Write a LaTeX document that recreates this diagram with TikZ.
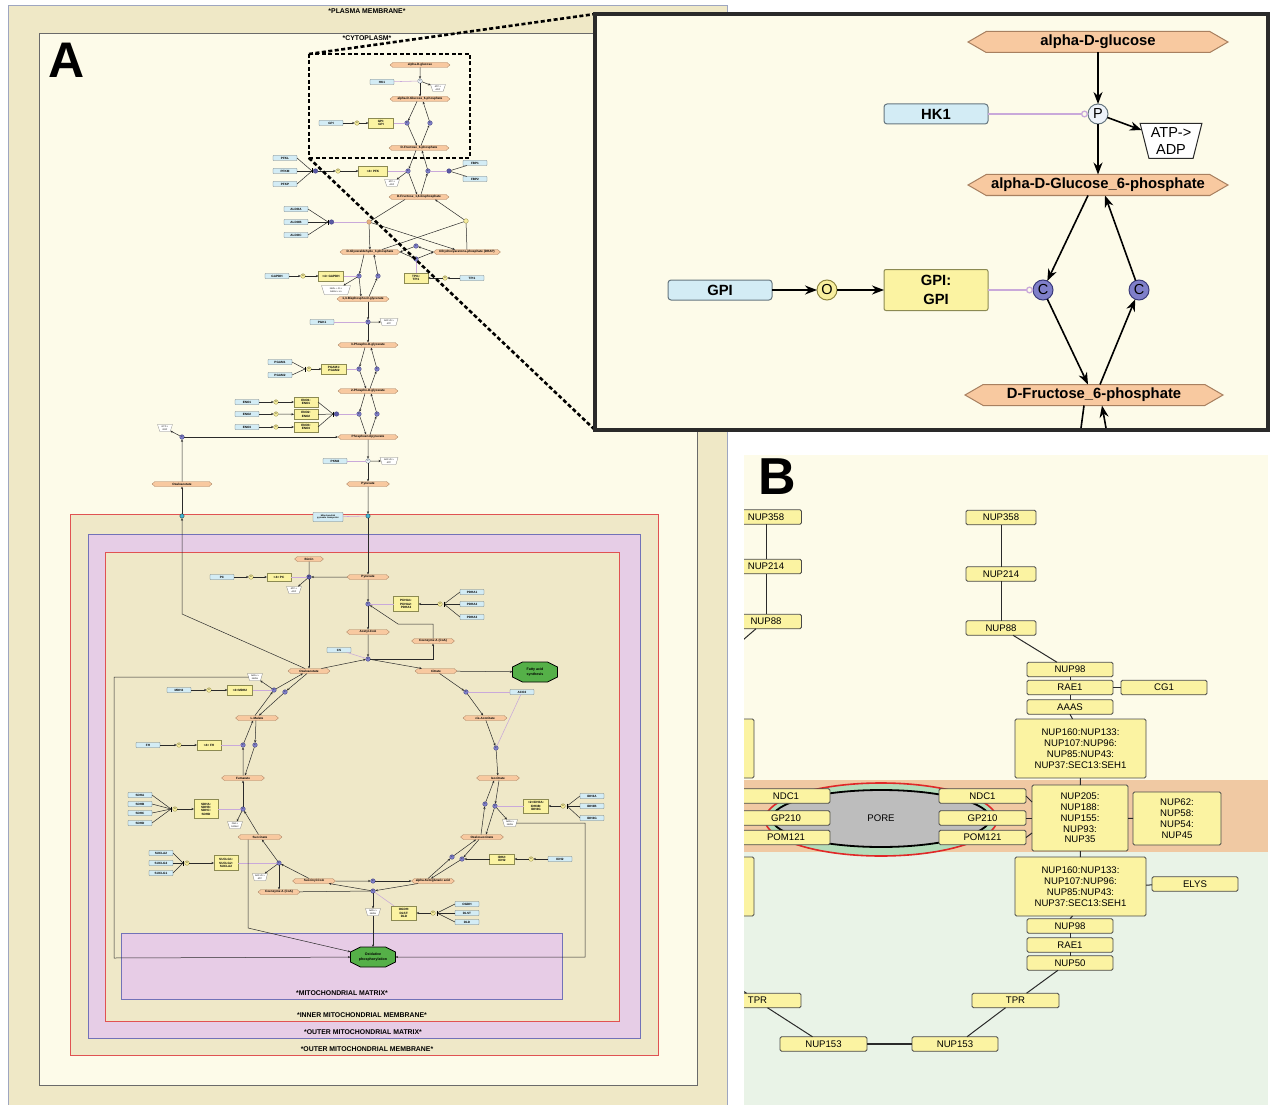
\documentclass[tikz,border=0pt]{standalone}
\usepackage{fontspec}
\setmainfont{Liberation Sans}
\usetikzlibrary{shapes.symbols,shapes.geometric,arrows.meta,calc}

\definecolor{plasma}{HTML}{EFE8C6}
\definecolor{cyto}{HTML}{FDFBE9}
\definecolor{mitopurp}{HTML}{E6CDE6}
\definecolor{matrixcol}{HTML}{E7CCE6}
\definecolor{mitobeige}{HTML}{EFE8C8}
\definecolor{mitored}{HTML}{E05252}
\definecolor{mitoblue}{HTML}{7272B8}
\definecolor{pmborder}{HTML}{9EA6C0}
\definecolor{genecol}{HTML}{D3ECF5}
\definecolor{genebd}{HTML}{66767F}
\definecolor{cxcol}{HTML}{FBF3A2}
\definecolor{cxbd}{HTML}{8C8A52}
\definecolor{metcol}{HTML}{F8C9A0}
\definecolor{metbd}{HTML}{A88060}
\definecolor{pccol}{HTML}{7F7FC9}
\definecolor{pcdark}{HTML}{5A5AA6}
\definecolor{pcbd}{HTML}{3A3A7A}
\definecolor{occol}{HTML}{F7EE9E}
\definecolor{ocbd}{HTML}{8E8640}
\definecolor{catcol}{HTML}{C9A9DA}
\definecolor{cyancol}{HTML}{3FB8D8}
\definecolor{fascol}{HTML}{55B048}
\definecolor{orcirc}{HTML}{E8B080}
\definecolor{bandor}{HTML}{F0C9A3}
\definecolor{bandgr}{HTML}{E9F3E7}
\definecolor{pwhite}{HTML}{EEF3FA}
\definecolor{ink}{HTML}{2A2A2A}
\definecolor{porered}{HTML}{E02828}
\definecolor{poregreen}{HTML}{B4DCBA}
\definecolor{poregray}{HTML}{BDBDBD}

\newcommand\fA{\fontsize{3.1}{3.3}\selectfont\bfseries}
\newcommand\fB{\fontsize{2.2}{2.5}\selectfont}
\newcommand\fC{\fontsize{3.6}{4.4}\selectfont\bfseries}
\newcommand\fR{\fontsize{6.9}{7.5}\selectfont\bfseries}
\newcommand\fI{\fontsize{14.8}{19}\selectfont\bfseries}
\newcommand\fIr{\fontsize{14.5}{16.5}\selectfont}
\newcommand\fN{\fontsize{9.6}{10.8}\selectfont}
% octagonal outline of width 45 and height 20 around a point
\newcommand\octoutline[1]{%
  \draw[octA] ($(#1)+(-22.5,-5)$) -- ($(#1)+(-12.5,-10)$) -- ($(#1)+(12.5,-10)$) -- ($(#1)+(22.5,-5)$)
    -- ($(#1)+(22.5,5)$) -- ($(#1)+(12.5,10)$) -- ($(#1)+(-12.5,10)$) -- ($(#1)+(-22.5,5)$) -- cycle;}

\tikzset{
  every node/.style={inner sep=0pt, outer sep=0pt},
  gA/.style={draw=genebd, fill=genecol, rounded corners=0.6pt, line width=0.3pt, minimum width=24pt, minimum height=5pt, font=\fA},
  cA/.style={draw=cxbd, fill=cxcol, line width=0.3pt, minimum width=25pt, minimum height=10pt, font=\fA, align=center},
  mA/.style={signal, signal to=east and west, signal pointer angle=80, draw=metbd, fill=metcol, line width=0.3pt, minimum height=5pt, font=\fA},
  pcA/.style={circle, draw=pcbd, fill=pccol, line width=0.3pt, minimum size=4.6pt, font=\fB},
  kA/.style={circle, draw=pcbd, fill=pcdark, line width=0.3pt, minimum size=4.6pt, font=\fB},
  ocA/.style={circle, draw=ocbd, fill=occol, line width=0.3pt, minimum size=4.6pt, font=\fB},
  wcA/.style={circle, draw=genebd, fill=pwhite, line width=0.3pt, minimum size=4.6pt, font=\fB},
  tcA/.style={circle, draw=ink, fill=cyancol, line width=0.3pt, minimum size=4.4pt},
  trA/.style={trapezium, shape border rotate=180, trapezium angle=70, trapezium stretches=true, draw=gray, fill=white, line width=0.3pt, minimum width=15pt, minimum height=7pt, font=\fB, align=center},
  octA/.style={draw=black, fill=fascol, line width=0.7pt},
  octT/.style={minimum width=45pt, minimum height=20pt, font=\fC, align=center},
  arA/.style={draw=ink, line width=0.5pt, -{Stealth[length=2.6pt,width=2.2pt]}},
  lnA/.style={draw=ink, line width=0.5pt},
  barA/.style={draw=black, line width=1pt},
  catA/.style={draw=catcol, line width=0.55pt},
  regionlabel/.style={font=\fR},
  gI/.style={draw=genebd, fill=genecol, rounded corners=3pt, line width=1pt, minimum width=104pt, minimum height=20pt, font=\fI},
  cI/.style={draw=cxbd, fill=cxcol, rounded corners=2pt, line width=1pt, minimum width=104pt, minimum height=41pt, font=\fI, align=center},
  mI/.style={signal, signal to=east and west, signal pointer angle=60, draw=metbd, fill=metcol, line width=1pt, minimum height=21pt, font=\fI},
  ciI/.style={circle, line width=1pt, minimum size=20pt, font=\fIr},
  arI/.style={draw=black, line width=1.6pt, -{Stealth[length=12pt,width=9pt]}},
  lnI/.style={draw=black, line width=1.6pt},
  catI/.style={draw=catcol, line width=1.3pt, -{Circle[open,length=7pt,width=7pt]}},
  zoomline/.style={draw=black, line width=2.6pt, dash pattern=on 4pt off 2.5pt},
  nb/.style={draw=ink!85, fill=cxcol, rounded corners=1.5pt, line width=0.8pt, minimum height=14.5pt, font=\fN, align=center},
  lnB/.style={draw=ink, line width=1pt},
}

\begin{document}
\begin{tikzpicture}[x=1pt,y=-1pt]
\useasboundingbox (0,0) rectangle (1275,1105);
\fill[white] (0,0) rectangle (1275,1105);

% ---------------- panel A: compartments ----------------
\draw[draw=pmborder, line width=0.6pt, fill=plasma] (8,5) -- (727,5) -- (727,1106) -- (8,1106) -- cycle;
\draw[draw=ink!70, line width=0.6pt, fill=cyto] (39,33) rectangle (697,1085);
\node[regionlabel] (lblPM) at (367,11) {*PLASMA MEMBRANE*};
\node[regionlabel] (lblCY) at (367,38) {*CYTOPLASM*};
\node[font=\fontsize{50}{50}\selectfont\bfseries] (lblA) at (67,60) {A};

\draw[draw=mitored, line width=0.6pt, fill=mitobeige] (70,514) rectangle (658,1055);
\draw[draw=mitoblue, line width=0.6pt, fill=mitopurp] (88,534) rectangle (640,1038);
\draw[draw=mitored, line width=0.6pt, fill=mitobeige] (105,552) rectangle (619,1021);
\draw[draw=mitoblue, line width=0.6pt, fill=matrixcol] (121,933) rectangle (562,999);
\node[regionlabel] (lblMM) at (342,993) {*MITOCHONDRIAL MATRIX*};
\node[regionlabel] (lblIM) at (362,1015) {*INNER MITOCHONDRIAL MEMBRANE*};
\node[regionlabel] (lblOX) at (363,1032) {*OUTER MITOCHONDRIAL MATRIX*};
\node[regionlabel] (lblOM) at (367,1049) {*OUTER MITOCHONDRIAL MEMBRANE*};

% ---------------- glycolysis ----------------
\node[mA, minimum width=60] (glc) at (420,65) {alpha-D-glucose};
\node[gA] (hk1) at (382,82) {HK1};
\node[wcA] (pHK) at (420,81) {P};
\node[trA] (atpHK) at (438,88) {ATP->\\ADP};
\node[mA, minimum width=60] (g6p) at (420,99) {alpha-D-Glucose\_6-phosphate};
\node[gA] (gpi) at (331,123) {GPI};
\node[ocA] (oGPI) at (357,123) {O};
\node[cA] (gpigpi) at (381,123) {GPI:\\GPI};
\node[pcA] (cG1) at (407,123) {C};
\node[pcA] (cG2) at (430,123) {C};
\node[mA, minimum width=60] (f6p) at (419,148) {D-Fructose\_6-phosphate};
\node[gA] (pfkl) at (285,158) {PFKL};
\node[gA] (pfkm) at (285,171) {PFKM};
\node[gA] (pfkp) at (285,184) {PFKP};
\coordinate (bPFK) at (312,171);
\node[kA] (kPFK) at (315.5,171) {};
\node[ocA] (oPFK) at (338,171) {O};
\node[cA, minimum width=29] (pfk) at (373,171) {<4> PFK};
\node[pcA] (cP1) at (408,171) {C};
\node[pcA] (cP2) at (428,171) {C};
\node[kA] (kFBP) at (449,171) {};
\node[trA] (atpPFK) at (392,183) {ATP->\\ADP};
\node[gA] (fbp1) at (475,163) {FBP1};
\node[gA] (fbp2) at (475,179) {FBP2};
\node[mA, minimum width=60] (f16bp) at (419,197) {D-Fructose\_1,6-bisphosphate};
\node[gA] (aldoa) at (296,209) {ALDOA};
\node[gA] (aldob) at (296,222) {ALDOB};
\node[gA] (aldoc) at (296,235) {ALDOC};
\coordinate (bALD) at (328,222);
\node[kA] (kALDO) at (331.5,222) {};
\node[circle, draw=metbd, fill=orcirc, line width=0.3pt, minimum size=4.6pt] (cAL) at (369,222) {};
\node[ocA] (cAL2) at (466,221) {};
\node[mA, minimum width=60] (g3p) at (370,252) {D-Glyceraldehyde\_3-phosphate};
\node[mA, minimum width=67] (dhap) at (467,252) {Dihydroxyacetone-phosphate (DHAP)};
\node[pcA] (cT1) at (416,246) {C};
\node[pcA] (cT2) at (416,259) {C};
\node[cA, minimum width=24] (tpitpi) at (416,278) {TPI1:\\TPI1};
\node[ocA] (oTPI) at (445,278) {O};
\node[gA] (tpi1) at (472,278) {TPI1};
\node[gA] (gapdh) at (277,276) {GAPDH};
\node[ocA] (oGAP) at (303,276) {O};
\node[cA] (gapcx) at (331,276) {<4> GAPDH};
\node[pcA] (cD1) at (359,276) {C};
\node[pcA] (cD2) at (378,276) {C};
\node[trA, minimum width=29, minimum height=9] (nadGAP) at (336,290) {NAD+ + Pi->\\NADH + H+};
\node[mA, minimum width=52] (bpg) at (363,299) {1,3-Bisphospho-D-glycerate};
\node[gA] (pgk1) at (322,322) {PGK1};
\node[pcA] (cK) at (368,322) {C};
\node[trA, minimum width=18] (adpPGK) at (389,322) {ADP+Pi->\\ATP};
\node[mA, minimum width=60] (pg3) at (368,345) {3-Phospho-D-glycerate};
\node[gA] (pgam1) at (280,362) {PGAM1};
\node[gA] (pgam2) at (280,375) {PGAM2};
\coordinate (bPGAM) at (305,369);
\node[ocA] (oPGAM) at (309,369) {O};
\node[cA] (pgamcx) at (334,369) {PGAM1:\\PGAM2};
\node[pcA] (cM1) at (359,369) {C};
\node[pcA] (cM2) at (377,369) {C};
\node[mA, minimum width=60] (pg2) at (368,391) {2-Phospho-D-glycerate};
\node[gA] (eno1) at (247,402) {ENO1};
\node[gA] (eno2) at (247,414) {ENO2};
\node[gA] (eno3) at (247,427) {ENO3};
\node[ocA] (oE1) at (276,402) {O};
\node[ocA] (oE2) at (276,414) {O};
\node[ocA] (oE3) at (276,427) {O};
\node[cA, minimum width=24] (enocx1) at (306,402) {ENO1:\\ENO1};
\node[cA, minimum width=24] (enocx2) at (306,414.5) {ENO2:\\ENO2};
\node[cA, minimum width=24] (enocx3) at (306,427) {ENO3:\\ENO3};
\coordinate (bENO) at (333,414);
\node[kA] (kENO) at (336.5,414) {};
\node[pcA] (cE1) at (359,414) {C};
\node[pcA] (cE2) at (377,414) {C};
\node[mA, minimum width=60] (pep) at (368,437) {Phosphoenolpyruvate};
\node[pcA] (cPCK) at (182,437) {C};
\node[trA] (gtp) at (165,428) {GTP->\\GDP};
\node[gA] (pkm2) at (335,461) {PKM2};
\node[wcA] (pPK) at (368,461) {P};
\node[trA, minimum width=18] (adpPK) at (389,461) {ADP+Pi->\\ATP};
\node[mA, minimum width=43] (pyrC) at (368,484) {Pyruvate};
\node[mA, minimum width=60] (oaaC) at (182,484) {Oxaloacetate};

% ---------------- mitochondrion ----------------
\node[tcA] (tOAA) at (182,516) {};
\node[tcA] (tPYR) at (368,516) {};
\node[gA, minimum width=30, minimum height=9, align=center, font=\fB\bfseries] (mpc) at (328,517) {Mitochondrial\\pyruvate transporter};
\coordinate (kOAA) at (182,614);
\node[mA, minimum width=29] (biotin) at (309,559) {Biotin};
\node[gA] (pcG) at (222,577) {PC};
\node[ocA] (oPC) at (251,577) {O};
\node[cA, minimum width=24, minimum height=8] (pccx) at (279,577) {<4> PC};
\node[kA] (cPC) at (309,577) {C};
\node[trA] (atpPC) at (294,590) {ATP->\\ADP};
\node[mA, minimum width=42] (pyrM) at (368,577) {Pyruvate};
\node[pcA] (cPDH) at (368,604) {C};
\node[cA, minimum width=25, minimum height=15] (pdhcx) at (406,604) {PDHA1:\\PDHA2:\\PDHA3};
\node[ocA] (oPDH) at (440,604) {O};
\coordinate (bPDH) at (444,604);
\node[gA] (pdha1) at (472,592) {PDHA1};
\node[gA] (pdha2) at (472,604) {PDHA2};
\node[gA] (pdha3) at (472,617) {PDHA3};
\node[mA, minimum width=43] (accoa) at (368,632) {Acetyl-CoA};
\node[mA, minimum width=43] (coa1) at (433,641) {Coenzyme A (CoA)};
\coordinate (kCoA1) at (433,624);
\coordinate (kCoA2) at (398,624);
\node[gA] (cs) at (339,650) {CS};
\node[pcA] (cCS) at (368,659) {C};
\coordinate (kCS) at (433,659);
\node[mA, minimum width=42] (oaaM) at (309,671) {Oxaloacetate};
\node[mA, minimum width=42] (cit) at (436,671) {Citrate};
\coordinate (fasc) at (535,672);
\octoutline{fasc}
\node[octT] (fas) at (fasc) {Fatty acid\\synthesis};
\node[pcA] (cAC1) at (466,692) {C};
\node[gA] (aco2) at (522,692) {ACO2};
\node[mA, minimum width=44] (cisac) at (485,718) {cis-Aconitate};
\node[pcA] (cAC2) at (496,748) {C};
\node[mA, minimum width=43] (isocit) at (498,778) {Isocitrate};
\node[pcA] (cI3) at (485,804) {C};
\node[pcA] (cI4) at (495,806) {C};
\node[trA] (nadIDH) at (510,823) {NAD+->\\NADH};
\node[cA, minimum width=25, minimum height=14] (idh3cx) at (536,806) {<2>IDH3A:\\IDH3B:\\IDH3G};
\node[ocA] (oIDH3) at (563,806) {O};
\coordinate (bIDH3) at (567,806);
\node[gA] (idh3a) at (592,796) {IDH3A};
\node[gA] (idh3b) at (592,806) {IDH3B};
\node[gA] (idh3g) at (592,818) {IDH3G};
\coordinate (kR1) at (585,823);
\coordinate (kR2) at (585,957);
\node[mA, minimum width=43] (oxsuc) at (482,837) {Oxalosuccinate};
\node[pcA] (cI1) at (452,857) {C};
\node[pcA] (cI2) at (462,859) {C};
\node[cA] (idh2cx) at (502,859) {IDH2:\\IDH2};
\node[ocA] (oIDH2) at (531,859) {O};
\node[gA] (idh2) at (560,859) {IDH2};
\node[mA, minimum width=43] (akg) at (433,881) {alpha-Ketoglutaric acid};
\node[pcA] (cKG1) at (373,881) {C};
\node[pcA] (cKG2) at (373,891) {C};
\node[trA] (nadKG) at (373,912) {NAD+->\\NADH};
\node[cA, minimum width=25, minimum height=14] (ogdhcx) at (404,913) {OGDH:\\DLST:\\DLD};
\node[ocA] (oOG) at (433,913) {O};
\coordinate (bOG) at (437,913);
\node[gA] (ogdh) at (467,904) {OGDH};
\node[gA] (dlst) at (467,913) {DLST};
\node[gA] (dld) at (467,922) {DLD};
\node[mA, minimum width=43] (succoa) at (314,881) {Succinyl-CoA};
\node[mA, minimum width=42] (coa2) at (279,892) {Coenzyme A (CoA)};
\node[pcA] (cSC) at (279,863) {C};
\node[trA] (adpSC) at (260,877) {ADP+Pi->\\ATP};
\node[cA, minimum width=24, minimum height=15] (succx) at (226,863) {SUCLG1:\\SUCLG2:\\SUCLA2};
\node[ocA] (oSUC) at (187,863) {O};
\coordinate (bSUC) at (183,863);
\node[gA] (sucla2) at (161,853) {SUCLA2};
\node[gA] (suclg2) at (161,863) {SUCLG2};
\node[gA] (suclg1) at (161,873) {SUCLG1};
\node[mA, minimum width=44] (succ) at (260,837) {Succinate};
\coordinate (kS1) at (248,928);
\node[pcA] (cSD) at (243,809) {C};
\node[trA] (fad) at (235,825) {FAD->\\FADH2};
\node[cA, minimum width=24, minimum height=19] (sdhcx) at (206,809) {SDHA:\\SDHB:\\SDHC:\\SDHD};
\node[ocA] (oSDH) at (175,809) {O};
\coordinate (bSDH) at (171,809);
\node[gA] (sdha) at (140,795) {SDHA};
\node[gA] (sdhb) at (140,804) {SDHB};
\node[gA] (sdhc) at (140,813) {SDHC};
\node[gA] (sdhd) at (140,823) {SDHD};
\node[mA, minimum width=43] (fum) at (243,778) {Fumarate};
\node[pcA] (cF1) at (243,745) {C};
\node[pcA] (cF2) at (255,745) {C};
\node[cA, minimum width=24] (fhcx) at (209,745) {<4> FH};
\node[ocA] (oFH) at (179,745) {O};
\node[gA] (fh) at (148,745) {FH};
\node[mA, minimum width=43] (malate) at (257,718) {L-Malate};
\node[pcA] (cMD1) at (274,690) {C};
\node[pcA] (cMD2) at (285,692) {C};
\node[trA] (nadMDH) at (255,677) {NAD+->\\NADH};
\node[cA, minimum width=25] (mdhcx) at (240,690) {<2>MDH2};
\node[ocA] (oMDH) at (209,690) {O};
\node[gA] (mdh2) at (179,690) {MDH2};
\coordinate (kL1) at (114,677);
\coordinate (kL2) at (114,958);
\coordinate (oxc) at (373,957);
\octoutline{oxc}
\node[octT] (oxphos) at (oxc) {Oxidative\\phosphorylation};

% ---------------- glycolysis connectors ----------------
\draw[arA] (glc) -- (pHK);
\draw[arA] (pHK) -- (g6p);
\draw[arA] (pHK) -- (atpHK);
\draw[catA] (hk1) -- (pHK);
\draw[arA] ($(g6p.south)+(-3,0)$) -- (cG1);
\draw[arA] (cG1) -- ($(f6p.north)+(-2,0)$);
\draw[arA] ($(f6p.north)+(2,0)$) -- (cG2);
\draw[arA] (cG2) -- ($(g6p.south)+(3,0)$);
\draw[arA] (gpi) -- (oGPI);
\draw[arA] (oGPI) -- (gpigpi);
\draw[catA] (gpigpi) -- (cG1);
\draw[lnA] (pfkl.east) -- (bPFK);
\draw[lnA] (pfkm.east) -- (bPFK);
\draw[lnA] (pfkp.east) -- (bPFK);
\draw[barA] ($(bPFK)+(0,-2.5)$) -- ($(bPFK)+(0,2.5)$);
\draw[arA] (kPFK) -- (oPFK);
\draw[arA] (oPFK) -- (pfk);
\draw[catA] (pfk) -- (cP1);
\draw[arA] ($(f6p.south)+(-3,0)$) -- (cP1);
\draw[arA] (cP1) -- ($(f16bp.north)+(-2,0)$);
\draw[arA] ($(f16bp.north)+(2,0)$) -- (cP2);
\draw[arA] (cP2) -- ($(f6p.south)+(3,0)$);
\draw[arA] (cP1) -- (atpPFK);
\draw[lnA] (fbp1) -- (kFBP);
\draw[lnA] (fbp2) -- (kFBP);
\draw[catA] (kFBP) -- (cP2);
\draw[lnA] (aldoa.east) -- (bALD);
\draw[lnA] (aldob.east) -- (bALD);
\draw[lnA] (aldoc.east) -- (bALD);
\draw[barA] ($(bALD)+(0,-2.5)$) -- ($(bALD)+(0,2.5)$);
\draw[catA] (kALDO) -- (cAL);
\draw[lnA] ($(f16bp.south)+(-14,0)$) -- (cAL);
\draw[arA] (cAL) -- (g3p);
\draw[arA] (cAL) -- ($(dhap.north)+(-12,0)$);
\draw[lnA] ($(g3p.north)+(12,0)$) -- (cAL2);
\draw[lnA] (dhap.north) -- (cAL2);
\draw[arA] (cAL2) -- ($(f16bp.south)+(16,0)$);
\draw[arA] (dhap.west) -- (cT1);
\draw[arA] (cT1) -- (g3p.east);
\draw[arA] (g3p.east) -- (cT2);
\draw[arA] (cT2) -- (dhap.west);
\draw[arA] (tpi1) -- (oTPI);
\draw[arA] (oTPI) -- (tpitpi);
\draw[catA] (tpitpi) -- (cT2);
\draw[arA] ($(g3p.south)+(-6,0)$) -- (cD1);
\draw[arA] (cD1) -- ($(bpg.north)+(-2,0)$);
\draw[arA] ($(bpg.north)+(6,0)$) -- (cD2);
\draw[arA] (cD2) -- ($(g3p.south)+(4,0)$);
\draw[arA] (cD1) -- (nadGAP);
\draw[arA] (gapdh) -- (oGAP);
\draw[arA] (oGAP) -- (gapcx);
\draw[catA] (gapcx) -- (cD1);
\draw[arA] ($(bpg.south)+(5,0)$) -- (cK);
\draw[arA] (cK) -- (pg3);
\draw[catA] (pgk1) -- (cK);
\draw[arA] (cK) -- (adpPGK);
\draw[arA] ($(pg3.south)+(-3,0)$) -- (cM1);
\draw[arA] (cM1) -- ($(pg2.north)+(-2,0)$);
\draw[arA] ($(pg2.north)+(2,0)$) -- (cM2);
\draw[arA] (cM2) -- ($(pg3.south)+(3,0)$);
\draw[lnA] (pgam1.east) -- (bPGAM);
\draw[lnA] (pgam2.east) -- (bPGAM);
\draw[barA] ($(bPGAM)+(0,-2.5)$) -- ($(bPGAM)+(0,2.5)$);
\draw[arA] (oPGAM) -- (pgamcx);
\draw[catA] (pgamcx) -- (cM1);
\draw[arA] ($(pg2.south)+(-3,0)$) -- (cE1);
\draw[arA] (cE1) -- ($(pep.north)+(-2,0)$);
\draw[arA] ($(pep.north)+(2,0)$) -- (cE2);
\draw[arA] (cE2) -- ($(pg2.south)+(3,0)$);
\draw[arA] (eno1) -- (oE1);
\draw[arA] (eno2) -- (oE2);
\draw[arA] (eno3) -- (oE3);
\draw[arA] (oE1) -- (enocx1);
\draw[arA] (oE2) -- (enocx2);
\draw[arA] (oE3) -- (enocx3);
\draw[lnA] (enocx1.east) -- (bENO);
\draw[lnA] (enocx2.east) -- (bENO);
\draw[lnA] (enocx3.east) -- (bENO);
\draw[barA] ($(bENO)+(0,-2.5)$) -- ($(bENO)+(0,2.5)$);
\draw[catA] (kENO) -- (cE1);
\draw[arA] (pep) -- (pPK);
\draw[arA] (pPK) -- (pyrC);
\draw[catA] (pkm2) -- (pPK);
\draw[arA] (pPK) -- (adpPK);
\draw[arA] (oaaC) -- (cPCK);
\draw[arA] (cPCK) -- (pep);
\draw[arA] (cPCK) -- (gtp);

% ---------------- mitochondrial connectors ----------------
\draw[arA] (pyrC) -- (tPYR);
\draw[arA] (tPYR) -- (pyrM);
\draw[catA] (mpc) -- (tPYR);
\draw[arA] ($(oaaM.north)+(-4,0)$) -- (kOAA) -- (tOAA);
\draw[arA] (tOAA) -- (oaaC);
\draw[arA] (pyrM) -- (cPC);
\draw[lnA] (biotin) -- (cPC);
\draw[arA] (cPC) -- (oaaM);
\draw[arA] (cPC) -- (atpPC);
\draw[catA] (pccx) -- (cPC);
\draw[arA] (pcG) -- (oPC);
\draw[arA] (oPC) -- (pccx);
\draw[arA] (pyrM) -- (cPDH);
\draw[arA] (cPDH) -- (accoa);
\draw[catA] (pdhcx) -- (cPDH);
\draw[arA] (oPDH) -- (pdhcx);
\draw[lnA] (pdha1.west) -- (bPDH);
\draw[lnA] (pdha2.west) -- (bPDH);
\draw[lnA] (pdha3.west) -- (bPDH);
\draw[barA] ($(bPDH)+(0,-2.5)$) -- ($(bPDH)+(0,2.5)$);
\draw[arA] (coa1.north) -- (kCoA1) -- (kCoA2) -- (cPDH);
\draw[arA] (accoa) -- (cCS);
\draw[arA] (oaaM) -- (cCS);
\draw[arA] (cCS) -- (cit);
\draw[arA] (cCS) -- (kCS) -- (coa1.south);
\draw[catA] (cs) -- (cCS);
\draw[arA] (cit) -- (fas);
\draw[arA] (cit) -- (cAC1);
\draw[arA] (cAC1) -- (cisac);
\draw[catA] (aco2) -- (cAC1);
\draw[catA] (aco2) -- (cAC2);
\draw[arA] (cisac) -- (cAC2);
\draw[arA] (cAC2) -- (isocit);
\draw[arA] ($(isocit.south)+(1,0)$) -- (cI4);
\draw[arA] (cI4) -- ($(oxsuc.north)+(4,0)$);
\draw[arA] ($(oxsuc.north)+(-1,0)$) -- (cI3);
\draw[arA] (cI3) -- ($(isocit.south)+(-4,0)$);
\draw[arA] (cI4) -- (nadIDH);
\draw[catA] (idh3cx) -- (cI4);
\draw[arA] (oIDH3) -- (idh3cx);
\draw[lnA] (idh3a.west) -- (bIDH3);
\draw[lnA] (idh3b.west) -- (bIDH3);
\draw[lnA] (idh3g.west) -- (bIDH3);
\draw[barA] ($(bIDH3)+(0,-2.5)$) -- ($(bIDH3)+(0,2.5)$);
\draw[arA] (nadIDH.east) -- (kR1) -- (kR2) -- (oxphos);
\draw[arA] ($(oxsuc.south)+(-3,0)$) -- (cI2);
\draw[arA] (cI2) -- ($(akg.north)+(-2,0)$);
\draw[arA] ($(akg.north)+(-5,0)$) -- (cI1);
\draw[arA] (cI1) -- ($(oxsuc.south)+(-6,0)$);
\draw[arA] (idh2cx) -- (cI2);
\draw[arA] (idh2) -- (oIDH2);
\draw[arA] (oIDH2) -- (idh2cx);
\draw[arA] (akg) -- (cKG2);
\draw[lnA] (coa2) -- (cKG2);
\draw[arA] (cKG2) -- (succoa);
\draw[arA] (cKG2) -- (nadKG);
\draw[catA] (ogdhcx) -- (cKG2);
\draw[arA] (oOG) -- (ogdhcx);
\draw[lnA] (ogdh.west) -- (bOG);
\draw[lnA] (dlst.west) -- (bOG);
\draw[lnA] (dld.west) -- (bOG);
\draw[barA] ($(bOG)+(0,-2.5)$) -- ($(bOG)+(0,2.5)$);
\draw[arA] (succoa) -- (cKG1);
\draw[arA] (cKG1) -- (akg);
\draw[arA] (nadKG) -- (oxphos);
\draw[arA] (succoa) -- (cSC);
\draw[arA] (cSC) -- (succ);
\draw[arA] (cSC) -- (adpSC);
\draw[arA] (cSC) -- (coa2);
\draw[catA] (succx) -- (cSC);
\draw[arA] (oSUC) -- (succx);
\draw[lnA] (sucla2.east) -- (bSUC);
\draw[lnA] (suclg2.east) -- (bSUC);
\draw[lnA] (suclg1.east) -- (bSUC);
\draw[barA] ($(bSUC)+(0,-2.5)$) -- ($(bSUC)+(0,2.5)$);
\draw[arA] (succ) -- (cSD);
\draw[arA] (cSD) -- (fum);
\draw[arA] (cSD) -- (fad);
\draw[catA] (sdhcx) -- (cSD);
\draw[arA] (oSDH) -- (sdhcx);
\draw[lnA] (sdha.east) -- (bSDH);
\draw[lnA] (sdhb.east) -- (bSDH);
\draw[lnA] (sdhc.east) -- (bSDH);
\draw[lnA] (sdhd.east) -- (bSDH);
\draw[barA] ($(bSDH)+(0,-2.5)$) -- ($(bSDH)+(0,2.5)$);
\draw[arA] ($(succ.south)+(-12,0)$) -- (kS1) -- (oxphos);
\draw[arA] (fum) -- (cF1);
\draw[arA] (cF1) -- ($(malate.south)+(-4,0)$);
\draw[arA] ($(malate.south)+(-1,0)$) -- (cF2);
\draw[arA] (cF2) -- ($(fum.north)+(2,0)$);
\draw[catA] (fhcx) -- (cF1);
\draw[arA] (oFH) -- (fhcx);
\draw[arA] (fh) -- (oFH);
\draw[arA] ($(malate.north)+(-2,0)$) -- (cMD1);
\draw[arA] (cMD1) -- ($(oaaM.south)+(-6,0)$);
\draw[arA] ($(oaaM.south)+(-2,0)$) -- (cMD2);
\draw[arA] (cMD2) -- ($(malate.north)+(2,0)$);
\draw[arA] (cMD1) -- (nadMDH);
\draw[catA] (mdhcx) -- (cMD1);
\draw[arA] (oMDH) -- (mdhcx);
\draw[arA] (mdh2) -- (oMDH);
\draw[arA] (nadMDH.west) -- (kL1) -- (kL2) -- (oxphos);

% ---------------- zoom outline ----------------
\coordinate (zbTL) at (309,54);
\coordinate (zbBL) at (309,158);
\coordinate (inTL) at (595,14);
\coordinate (inBL) at (595,430);
\draw[zoomline] (309,54) rectangle (470,158);
\draw[zoomline] (zbTL) -- (inTL);
\draw[zoomline] (zbBL) -- (inBL);

% ---------------- enlarged view ----------------
\draw[draw=ink, line width=4pt, fill=cyto] (595,14) rectangle (1268,430);
\node[mI, minimum width=260] (iglc) at (1098,42) {alpha-D-glucose};
\node[gI] (ihk1) at (936,114) {HK1};
\node[ciI, draw=genebd, fill=pwhite] (iP) at (1098,114) {P};
\node[trapezium, shape border rotate=180, trapezium angle=73, trapezium stretches=true, draw=ink, fill=white, line width=1pt, minimum width=62pt, minimum height=35pt, font=\fIr, align=center] (iatp) at (1171,141) {ATP->\\ADP};
\node[mI, minimum width=260] (ig6p) at (1098,185) {alpha-D-Glucose\_6-phosphate};
\node[gI] (igpi) at (720,290) {GPI};
\node[ciI, draw=ocbd, fill=occol] (iO) at (827,290) {O};
\node[cI] (igg) at (936,290) {GPI:\\GPI};
\node[ciI, draw=pcbd, fill=pccol] (iC1) at (1043,290) {C};
\node[ciI, draw=pcbd, fill=pccol] (iC2) at (1139,290) {C};
\node[mI, minimum width=258] (if6p) at (1094,395) {D-Fructose\_6-phosphate};
\coordinate (ibl) at (1081,428);
\coordinate (ibr) at (1106,428);
\draw[arI] (iglc) -- (iP);
\draw[arI] (iP) -- (ig6p);
\draw[arI] (iP) -- (iatp);
\draw[catI] (ihk1) -- (iP);
\draw[arI] ($(ig6p.south)+(-10,0)$) -- (iC1);
\draw[arI] (iC1) -- ($(if6p.north)+(-6,0)$);
\draw[arI] ($(if6p.north)+(6,0)$) -- (iC2);
\draw[arI] (iC2) -- ($(ig6p.south)+(7,0)$);
\draw[arI] (igpi) -- (iO);
\draw[arI] (iO) -- (igg);
\draw[catI] (igg) -- (iC1);
\draw[lnI] ($(if6p.south)+(-10,0)$) -- (ibl);
\draw[arI] (ibr) -- ($(if6p.south)+(8,0)$);

% ---------------- panel B: nuclear pore ----------------
\begin{scope}
\clip (744,455) rectangle (1268,1105);
\fill[cyto] (744,455) rectangle (1268,780);
\fill[bandor] (744,780) rectangle (1268,852);
\fill[bandgr] (744,852) rectangle (1268,1105);
\draw[draw=porered, line width=1.6pt, fill=poregreen] (881,819.5) ellipse [x radius=116, y radius=36.5];
\node[ellipse, draw=black, line width=1.8pt, fill=poregray, minimum width=218pt, minimum height=57pt, font=\fN] (pore) at (881,818.5) {PORE};
\node[font=\fontsize{52}{52}\selectfont\bfseries] (lblB) at (777,477) {B};

\node[nb, minimum width=71] (lnup358) at (766,517) {NUP358};
\node[nb, minimum width=71] (lnup214) at (766,566.5) {NUP214};
\node[nb, minimum width=71] (lnup88) at (766,621.5) {NUP88};
\coordinate (lcut) at (736,646);
\node[nb, minimum width=131, minimum height=59] (lbig1) at (688.5,748.5) {};
\node[nb, minimum width=88] (lndc1) at (786,796) {NDC1};
\node[nb, minimum width=88] (lgp210) at (786,818) {GP210};
\node[nb, minimum width=88] (lpom) at (786,837.5) {POM121};
\node[nb, minimum width=131, minimum height=59] (lbig2) at (688.5,886.5) {};
\node[nb, minimum width=87] (ltpr) at (757.5,1000.5) {TPR};
\coordinate (lcut2) at (737,987);
\node[nb, minimum width=87] (ln153) at (823.5,1044) {NUP153};

\node[nb, minimum width=70] (rnup358) at (1001,517.5) {NUP358};
\node[nb, minimum width=70] (rnup214) at (1001,574) {NUP214};
\node[nb, minimum width=70] (rnup88) at (1001,628) {NUP88};
\node[nb, minimum width=86] (tnup98) at (1070,669.5) {NUP98};
\node[nb, minimum width=86] (trae1) at (1070,687.5) {RAE1};
\node[nb, minimum width=86] (cg1) at (1164,687.5) {CG1};
\node[nb, minimum width=86] (aaas) at (1070,707) {AAAS};
\node[nb, minimum width=131, minimum height=59] (tbig) at (1080.5,748.5) {NUP160:NUP133:\\NUP107:NUP96:\\NUP85:NUP43:\\NUP37:SEC13:SEH1};
\node[nb, minimum width=87] (rndc1) at (982.5,796) {NDC1};
\node[nb, minimum width=87] (rgp210) at (982.5,818) {GP210};
\node[nb, minimum width=87] (rpom) at (982.5,837.5) {POM121};
\node[nb, minimum width=96, minimum height=66] (n205) at (1080,818) {NUP205:\\NUP188:\\NUP155:\\NUP93:\\NUP35};
\node[nb, minimum width=88, minimum height=53] (n62) at (1177,818.5) {NUP62:\\NUP58:\\NUP54:\\NUP45};
\node[nb, minimum width=131, minimum height=59] (bbig) at (1080.5,886.5) {NUP160:NUP133:\\NUP107:NUP96:\\NUP85:NUP43:\\NUP37:SEC13:SEH1};
\node[nb, minimum width=86] (elys) at (1195,884) {ELYS};
\node[nb, minimum width=86] (bnup98) at (1070,926) {NUP98};
\node[nb, minimum width=86] (brae1) at (1070,945) {RAE1};
\node[nb, minimum width=86] (nup50) at (1070,963) {NUP50};
\node[nb, minimum width=87] (rtpr) at (1015.5,1000.5) {TPR};
\node[nb, minimum width=86] (rn153) at (955,1044) {NUP153};

\draw[lnB] (lnup358) -- (lnup214);
\draw[lnB] (lnup214) -- (lnup88);
\draw[lnB] ($(lnup88.south)+(-10,0)$) -- (lcut);
\draw[lnB] (rnup358) -- (rnup214);
\draw[lnB] (rnup214) -- (rnup88);
\draw[lnB] ($(rnup88.south)+(12,0)$) -- ($(tnup98.north)+(-13,0)$);
\draw[lnB] (tnup98) -- (trae1);
\draw[lnB] (trae1) -- (aaas);
\draw[lnB] (aaas.south) -- ($(tbig.north)+(-8,0)$);
\draw[lnB] (trae1) -- (cg1);
\draw[lnB] (tbig) -- (n205);
\draw[lnB] (rndc1.east) -- ($(n205.west)+(0,-16)$);
\draw[lnB] (rgp210.east) -- (n205.west);
\draw[lnB] (rpom.east) -- ($(n205.west)+(0,15)$);
\draw[lnB] (n205) -- (n62);
\draw[lnB] (n205) -- (bbig);
\draw[lnB] (bbig) -- (elys);
\draw[lnB] ($(bbig.south)+(-8,0)$) -- (bnup98.north);
\draw[lnB] (bnup98) -- (brae1);
\draw[lnB] (brae1) -- (nup50);
\draw[lnB] ($(nup50.south)+(-12,0)$) -- ($(rtpr.north)+(11,0)$);
\draw[lnB] ($(rtpr.south)+(-10,0)$) -- ($(rn153.north)+(12,0)$);
\draw[lnB, line width=1.8pt] (rn153) -- (ln153);
\draw[lnB] ($(ltpr.south)+(10,0)$) -- ($(ln153.north)+(-11,0)$);
\draw[lnB] ($(ltpr.north)+(-11,0)$) -- (lcut2);
\end{scope}
\end{tikzpicture}
\end{document}
